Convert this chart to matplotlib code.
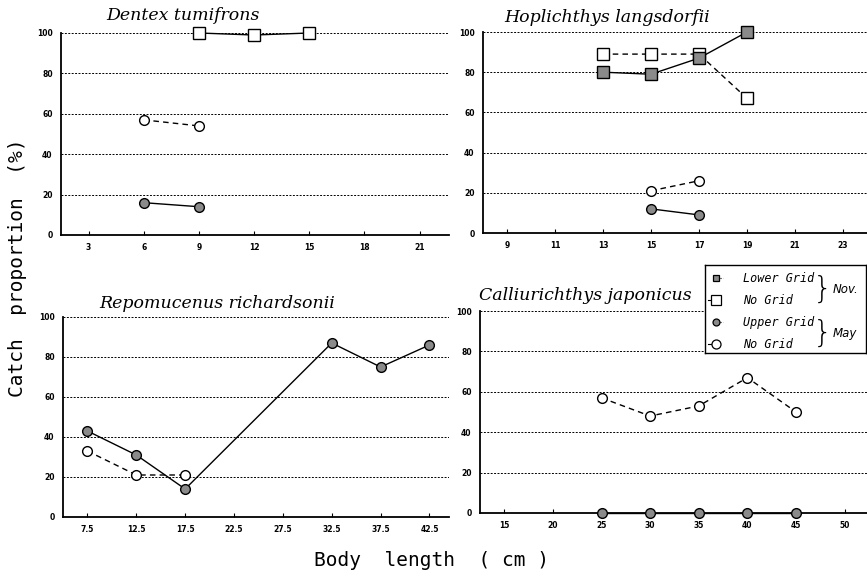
import matplotlib.pyplot as plt
from matplotlib.lines import Line2D

# Dentex tumifrons
dt_nov_nogrid_x = [9, 12, 15]
dt_nov_nogrid_y = [100, 99, 100]
dt_may_nogrid_x = [6, 9]
dt_may_nogrid_y = [57, 54]
dt_may_upper_x = [6, 9]
dt_may_upper_y = [16, 14]

# Hoplichthys langsdorfii
hl_nov_lower_x = [13, 15, 17, 19]
hl_nov_lower_y = [80, 79, 87, 100]
hl_nov_nogrid_x = [13, 15, 17, 19]
hl_nov_nogrid_y = [89, 89, 89, 67]
hl_may_nogrid_x = [15, 17]
hl_may_nogrid_y = [21, 26]
hl_may_upper_x = [15, 17]
hl_may_upper_y = [12, 9]

# Repomucenus richardsonii
rr_may_upper_x = [7.5, 12.5, 17.5, 32.5, 37.5, 42.5]
rr_may_upper_y = [43, 31, 14, 87, 75, 86]
rr_may_nogrid_x = [7.5, 12.5, 17.5]
rr_may_nogrid_y = [33, 21, 21]

# Calliurichthys japonicus
cj_may_nogrid_x = [25, 30, 35, 40, 45]
cj_may_nogrid_y = [57, 48, 53, 67, 50]
cj_may_upper_x = [25, 30, 35, 40, 45]
cj_may_upper_y = [0, 0, 0, 0, 0]

GRAY = '#8a8a8a'
W, H = 867, 580


def px_axes(fig, left, top, right, bottom):
    return fig.add_axes([left / W, 1 - bottom / H, (right - left) / W, (bottom - top) / H])


def style(ax, xlim, xticks, xticklabels):
    ax.set_xlim(*xlim)
    ax.set_ylim(0, 100)
    ax.set_xticks(xticks)
    ax.set_xticklabels(xticklabels)
    ax.set_yticks([0, 20, 40, 60, 80, 100])
    for s in ['top', 'right']:
        ax.spines[s].set_visible(False)
    for s in ['left', 'bottom']:
        ax.spines[s].set_linewidth(1.3)
    ax.yaxis.grid(True, linestyle=(0, (2, 1.5)), color='black', lw=0.7)
    ax.set_axisbelow(True)
    ax.tick_params(axis='x', direction='in', length=3, width=0.8, pad=6)
    ax.tick_params(axis='y', length=0, pad=6)
    for lab in ax.get_xticklabels() + ax.get_yticklabels():
        lab.set_fontsize(5.5)
        lab.set_fontweight('bold')


def plot(ax, x, y, marker, filled, dashed):
    ax.plot(x, y, color='black', lw=1.0,
            linestyle=(0, (4, 3)) if dashed else '-',
            marker=marker, markersize=8 if marker == 's' else 7,
            markerfacecolor=GRAY if filled else 'white',
            markeredgecolor='black', markeredgewidth=1.0,
            clip_on=False, zorder=3)


fig = plt.figure(figsize=(8.67, 5.80), dpi=100)

ax1 = px_axes(fig, 61, 33, 449, 235)
style(ax1, (1.5, 22.6), [3, 6, 9, 12, 15, 18, 21], ['3', '6', '9', '12', '15', '18', '21'])
plot(ax1, dt_nov_nogrid_x, dt_nov_nogrid_y, 's', False, False)
plot(ax1, dt_may_nogrid_x, dt_may_nogrid_y, 'o', False, True)
plot(ax1, dt_may_upper_x, dt_may_upper_y, 'o', True, False)

ax2 = px_axes(fig, 483, 32, 867, 233)
style(ax2, (8, 24), [9, 11, 13, 15, 17, 19, 21, 23], ['9', '11', '13', '15', '17', '19', '21', '23'])
plot(ax2, hl_nov_nogrid_x, hl_nov_nogrid_y, 's', False, True)
plot(ax2, hl_nov_lower_x, hl_nov_lower_y, 's', True, False)
plot(ax2, hl_may_nogrid_x, hl_may_nogrid_y, 'o', False, True)
plot(ax2, hl_may_upper_x, hl_may_upper_y, 'o', True, False)

ax3 = px_axes(fig, 63, 317, 449, 517)
style(ax3, (5, 44.5), [7.5, 12.5, 17.5, 22.5, 27.5, 32.5, 37.5, 42.5],
      ['7.5', '12.5', '17.5', '22.5', '27.5', '32.5', '37.5', '42.5'])
plot(ax3, rr_may_nogrid_x, rr_may_nogrid_y, 'o', False, True)
plot(ax3, rr_may_upper_x, rr_may_upper_y, 'o', True, False)

ax4 = px_axes(fig, 480, 311, 867, 513)
style(ax4, (12.5, 52.3), [15, 20, 25, 30, 35, 40, 45, 50], ['15', '20', '25', '30', '35', '40', '45', '50'])
plot(ax4, cj_may_nogrid_x, cj_may_nogrid_y, 'o', False, True)
plot(ax4, cj_may_upper_x, cj_may_upper_y, 'o', True, False)

title_kw = dict(family='DejaVu Serif', style='italic', fontsize=12.5, ha='center', va='center')
fig.text(183 / W, 1 - 15 / H, 'Dentex tumifrons', **title_kw)
fig.text(607 / W, 1 - 17 / H, 'Hoplichthys langsdorfii', **title_kw)
fig.text(217 / W, 1 - 303 / H, 'Repomucenus richardsonii', **title_kw)
fig.text(585 / W, 1 - 295 / H, 'Calliurichthys japonicus', **title_kw)

lab_kw = dict(family='DejaVu Sans Mono', fontsize=14, ha='center', va='center')
fig.text(18 / W, 1 - 268 / H, 'Catch  proportion  (%)', rotation=90, **lab_kw)
fig.text(432 / W, 1 - 560 / H, 'Body  length  ( cm )', **lab_kw)

# legend box
lg = px_axes(fig, 705, 265, 866, 353)
lg.set_xlim(0, 161)
lg.set_ylim(88, 0)
lg.set_xticks([])
lg.set_yticks([])
for s in lg.spines.values():
    s.set_linewidth(1.0)
lg.set_zorder(5)

entries = [
    ('s', True, 'Lower Grid', 13),
    ('s', False, 'No Grid', 35),
    ('o', True, 'Upper Grid', 57),
    ('o', False, 'No Grid', 79),
]
for marker, filled, text, yy in entries:
    if filled:
        lg.add_line(Line2D([12, 18], [yy, yy], color='black', lw=0.8, linestyle=':'))
    else:
        lg.add_line(Line2D([3, 9], [yy, yy], color='black', lw=0.8))
    lg.plot([11], [yy], marker=marker, markersize=5 if filled else 6.5,
            markerfacecolor=GRAY if filled else 'white', markeredgecolor='black',
            markeredgewidth=0.9, linestyle='none')
    lg.text(38, yy, text, family='DejaVu Sans Mono', style='italic', fontsize=8.5, va='center')

for y0, text in [(24, 'Nov.'), (68, 'May')]:
    lg.text(118, y0, '}', family='DejaVu Sans', fontsize=22, fontweight='light', va='center', ha='center')
    lg.text(128, y0, text, family='DejaVu Sans', style='italic', fontsize=8.5, va='center')

fig.savefig('out.png', dpi=100)
